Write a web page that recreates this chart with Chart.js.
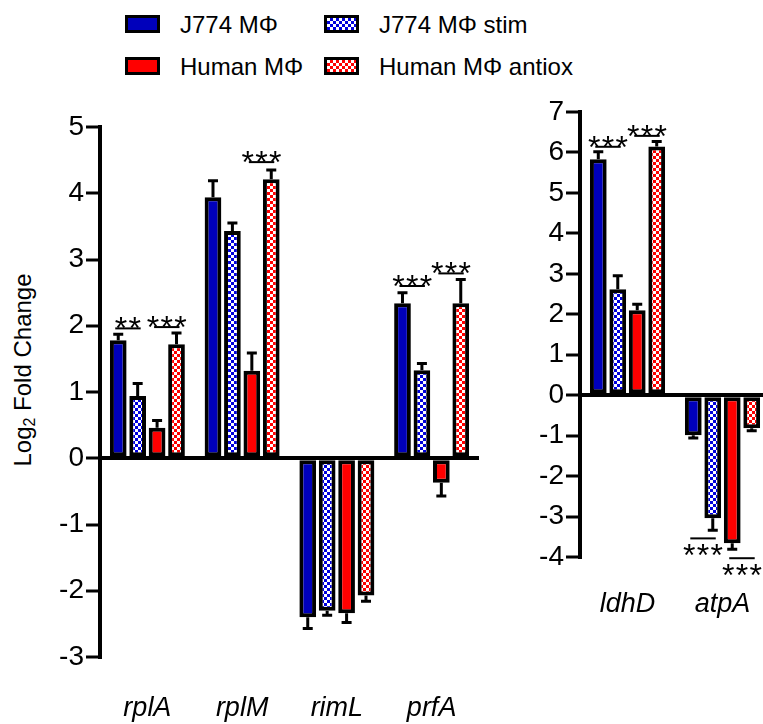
<!DOCTYPE html>
<html>
<head>
<meta charset="utf-8">
<script src="https://cdn.jsdelivr.net/npm/chart.js@4.4.1/dist/chart.umd.min.js"></script>
<style>
html, body { margin: 0; padding: 0; background: #fff; overflow: hidden; width: 763px; height: 724px; }
body { position: relative; font-family: "Liberation Sans", Arial, sans-serif; color: #000; }
#leftWrap { position: absolute; left: 0; top: 0; }
#rightWrap { position: absolute; left: 500px; top: 0; }
.key { position: absolute; width: 35px; height: 18px; border: 3px solid #000; box-sizing: border-box; }
.keyText { position: absolute; font-size: 24px; line-height: 24px; white-space: nowrap; }
#yTitle { position: absolute; left: 23px; top: 370px; font-size: 24px; white-space: nowrap;
  transform: translate(-50%, -50%) rotate(-90deg); }
#yTitle sub { font-size: 16px; vertical-align: -4px; line-height: 0; }
</style>
</head>
<body>
<div id="legend"></div>
<div id="yTitle">Log<sub>2</sub> Fold Change</div>
<div id="leftWrap"><canvas id="leftChart" width="490" height="724"></canvas></div>
<div id="rightWrap"><canvas id="rightChart" width="275" height="724"></canvas></div>
<script>
// genes, first four in the left panel, last two in the right panel
const genes = ['rplA', 'rplM', 'rimL', 'prfA', 'ldhD', 'atpA'];
const seriesNames = ['J774 MΦ', 'J774 MΦ stim', 'Human MΦ', 'Human MΦ antiox'];

const j774 = [1.78, 3.94, -2.40, 2.34, 5.83, -0.99];
const j774Err = [0.09, 0.25, 0.17, 0.16, 0.19, 0.07];
const j774Stim = [0.94, 3.43, -2.30, 1.33, 2.62, -3.04];
const j774StimErr = [0.19, 0.12, 0.07, 0.10, 0.33, 0.30];
const human = [0.46, 1.32, -2.34, -0.37, 2.10, -3.66];
const humanErr = [0.11, 0.27, 0.14, 0.20, 0.15, 0.15];
const humanAntiox = [1.72, 4.21, -2.07, 2.34, 6.15, -0.82];
const humanAntioxErr = [0.17, 0.14, 0.09, 0.36, 0.12, 0.06];

const leftRange = [-3, 5];
const rightRange = [-4, 7];

// significance: gene, series a, series b, height of the bar line, stars
const sigMarks = [
  ['rplA', 0, 1, 1.96, '**'],
  ['rplA', 2, 3, 1.98, '***'],
  ['rplM', 2, 3, 4.47, '***'],
  ['prfA', 0, 1, 2.60, '***'],
  ['prfA', 2, 3, 2.79, '***'],
  ['ldhD', 0, 1, 6.14, '***'],
  ['ldhD', 2, 3, 6.41, '***'],
  ['atpA', 0, 1, -3.54, '***'],
  ['atpA', 2, 3, -4.03, '***']
];

const FONT = '"Liberation Sans", Arial, sans-serif';
const BLUE = '#0000bb';
const RED = '#ff0000';

function checker(color) {
  const c = document.createElement('canvas');
  c.width = 6; c.height = 6;
  const g = c.getContext('2d');
  g.fillStyle = '#fff';
  g.fillRect(0, 0, 6, 6);
  g.fillStyle = color;
  g.fillRect(3, 0, 3, 3);
  g.fillRect(0, 3, 3, 3);
  return c;
}
const blueCheck = checker('#0000dd');
const redCheck = checker(RED);

const fills = [
  BLUE,
  document.createElement('canvas').getContext('2d').createPattern(blueCheck, 'repeat'),
  RED,
  document.createElement('canvas').getContext('2d').createPattern(redCheck, 'repeat')
];
const keyBg = [BLUE, 'url(' + blueCheck.toDataURL() + ')', RED, 'url(' + redCheck.toDataURL() + ')'];

// legend
const legend = document.getElementById('legend');
const keyPos = [[125, 15], [324, 15], [125, 57], [324, 57]];
seriesNames.forEach((name, i) => {
  const k = document.createElement('div');
  k.className = 'key';
  k.style.left = keyPos[i][0] + 'px';
  k.style.top = keyPos[i][1] + 'px';
  k.style.background = keyBg[i];
  legend.appendChild(k);
  const t = document.createElement('div');
  t.className = 'keyText';
  t.style.left = (keyPos[i][0] + 55) + 'px';
  t.style.top = (keyPos[i][1] - 2) + 'px';
  t.textContent = name;
  legend.appendChild(t);
});

const errorBars = {
  id: 'errorBars',
  afterDatasetsDraw(chart) {
    const ctx = chart.ctx;
    const y = chart.scales.y;
    ctx.save();
    ctx.strokeStyle = '#000';
    ctx.lineWidth = 3;
    chart.data.datasets.forEach((ds, i) => {
      chart.getDatasetMeta(i).data.forEach((bar, j) => {
        const v = ds.data[j];
        const tip = y.getPixelForValue(v + Math.sign(v) * ds.err[j]);
        const base = y.getPixelForValue(v);
        ctx.beginPath();
        ctx.moveTo(bar.x, base);
        ctx.lineTo(bar.x, tip);
        ctx.moveTo(bar.x - 5, tip);
        ctx.lineTo(bar.x + 5, tip);
        ctx.stroke();
      });
    });
    ctx.restore();
  }
};

const sigStars = {
  id: 'sigStars',
  afterDatasetsDraw(chart, args, opts) {
    const ctx = chart.ctx;
    const y = chart.scales.y;
    ctx.save();
    ctx.strokeStyle = '#000';
    ctx.fillStyle = '#000';
    ctx.lineWidth = 2;
    ctx.font = '32px ' + FONT;
    ctx.textAlign = 'center';
    ctx.textBaseline = 'alphabetic';
    opts.marks.forEach(([gene, a, b, yv, stars]) => {
      const j = chart.data.labels.indexOf(gene);
      const xa = chart.getDatasetMeta(a).data[j].x;
      const xb = chart.getDatasetMeta(b).data[j].x;
      const py = y.getPixelForValue(yv);
      ctx.beginPath();
      ctx.moveTo(xa - 3, py);
      ctx.lineTo(xb + 3, py);
      ctx.stroke();
      const cx = (xa + xb) / 2;
      const by = yv < 0 ? py + 28 : py + 11;
      for (let k = 0; k < stars.length; k++) {
        ctx.fillText('*', cx + (k - (stars.length - 1) / 2) * 13.7, by);
      }
    });
    ctx.restore();
  }
};

function makeChart(id, from, to, range, pad, yWidth, labelPad) {
  const pick = arr => arr.slice(from, to);
  const series = [
    [j774, j774Err], [j774Stim, j774StimErr], [human, humanErr], [humanAntiox, humanAntioxErr]
  ];
  const labels = pick(genes);
  return new Chart(document.getElementById(id), {
    type: 'bar',
    data: {
      labels: labels,
      datasets: series.map((s, i) => ({
        label: seriesNames[i],
        data: pick(s[0]),
        err: pick(s[1]),
        backgroundColor: fills[i],
        borderColor: '#000',
        borderWidth: 4,
        borderSkipped: false,
        categoryPercentage: 0.82,
        barPercentage: 0.86
      }))
    },
    options: {
      responsive: false,
      animation: false,
      layout: { padding: pad },
      plugins: {
        legend: { display: false },
        tooltip: { enabled: false },
        sigStars: { marks: sigMarks.filter(m => labels.includes(m[0])) }
      },
      scales: {
        x: {
          grid: { display: false },
          border: { display: false },
          ticks: {
            color: '#000',
            padding: labelPad,
            autoSkip: false,
            maxRotation: 0,
            font: { family: FONT, size: 27, style: 'italic' }
          },
          afterFit: s => { s.height = 67; }
        },
        y: {
          min: range[0],
          max: range[1],
          border: { display: true, color: '#000', width: 4 },
          grid: {
            color: c => (c.tick && c.tick.value === 0 ? '#000' : 'rgba(0,0,0,0)'),
            lineWidth: 4,
            tickColor: '#000',
            tickWidth: 3,
            tickLength: 14
          },
          ticks: {
            stepSize: 1,
            color: '#000',
            padding: 2,
            font: { family: FONT, size: 28 }
          },
          afterFit: s => { s.width = yWidth; }
        }
      }
    },
    plugins: [errorBars, sigStars]
  });
}

makeChart('leftChart', 0, 4, leftRange, { top: 127, right: 11, bottom: 0, left: 0 }, 100, 27);
makeChart('rightChart', 4, 6, rightRange, { top: 112, right: 5, bottom: 100, left: 0 }, 80, 23);
</script>
</body>
</html>
